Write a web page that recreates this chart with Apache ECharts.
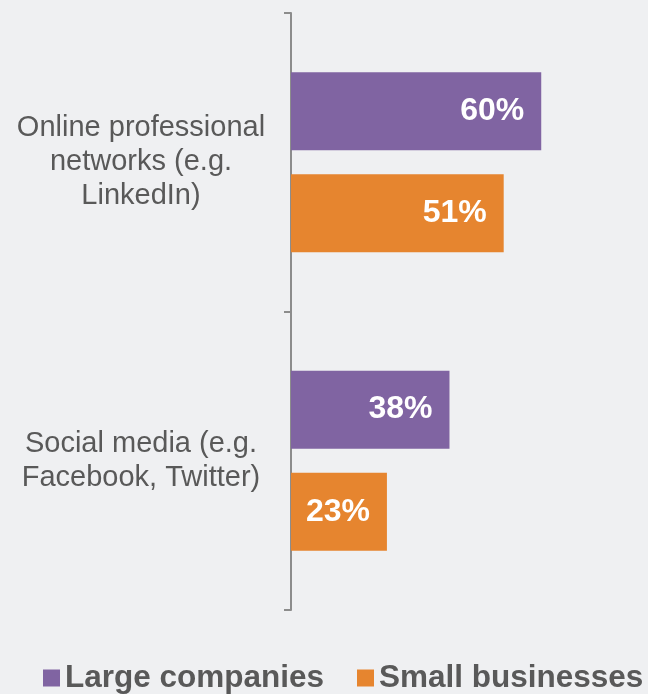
<!DOCTYPE html>
<html>
<head>
<meta charset="utf-8">
<script src="https://cdn.jsdelivr.net/npm/echarts@6/dist/echarts.min.js"></script>
<style>
  html, body { margin: 0; padding: 0; background: #eff0f2; }
  #chart { width: 648px; height: 694px; }
</style>
</head>
<body>
<div id="chart"></div>
<script>
// Channels used, share of respondents
const categories = ['Online professional\nnetworks (e.g.\nLinkedIn)', 'Social media (e.g.\nFacebook, Twitter)'];
const seriesNames = ['Large companies', 'Small businesses'];
const largeCompanies = [60, 38];
const smallBusinesses = [51, 23];

const FONT = '"Liberation Sans", Arial, sans-serif';
const colors = ['#8064a2', '#e6852f'];
const legendLefts = [43, 357];

const chart = echarts.init(document.getElementById('chart'));

const barLabel = {
  show: true,
  position: 'insideRight',
  distance: 17,
  formatter: '{c}%',
  color: '#ffffff',
  fontFamily: FONT,
  fontWeight: 'bold',
  fontSize: 32
};

// one legend block per series so the pair sits on one line at full size
const legends = seriesNames.map((name, i) => ({
  data: [name],
  left: legendLefts[i],
  top: 662,
  padding: 0,
  itemWidth: 17,
  itemHeight: 17,
  icon: 'rect',
  textStyle: {
    color: '#595959',
    fontFamily: FONT,
    fontWeight: 'bold',
    fontSize: 31.5
  }
}));

chart.setOption({
  backgroundColor: '#eff0f2',
  animation: false,
  color: colors,
  // plot area runs to the right edge; value axis max keeps ~4.17px per percent
  grid: { left: 291, top: 13, right: 0, height: 597, containLabel: false },
  xAxis: {
    type: 'value', min: 0, max: 85.6, show: false
  },
  yAxis: {
    type: 'category',
    inverse: true,
    data: categories,
    axisLine: { show: true, lineStyle: { color: '#8c8c8c', width: 2 } },
    axisTick: { show: true, length: 7, lineStyle: { color: '#8c8c8c', width: 2 } },
    axisLabel: {
      color: '#595959',
      fontFamily: FONT,
      fontSize: 29,
      lineHeight: 34,
      align: 'center',
      margin: 150
    },
    splitLine: { show: false }
  },
  legend: legends,
  series: [
    {
      name: seriesNames[0], type: 'bar', data: largeCompanies,
      barWidth: 78, barGap: '31%',
      itemStyle: { color: colors[0] },
      label: barLabel
    },
    {
      name: seriesNames[1], type: 'bar', data: smallBusinesses,
      barWidth: 78, barGap: '31%',
      itemStyle: { color: colors[1] },
      label: barLabel
    }
  ]
});
</script>
</body>
</html>
